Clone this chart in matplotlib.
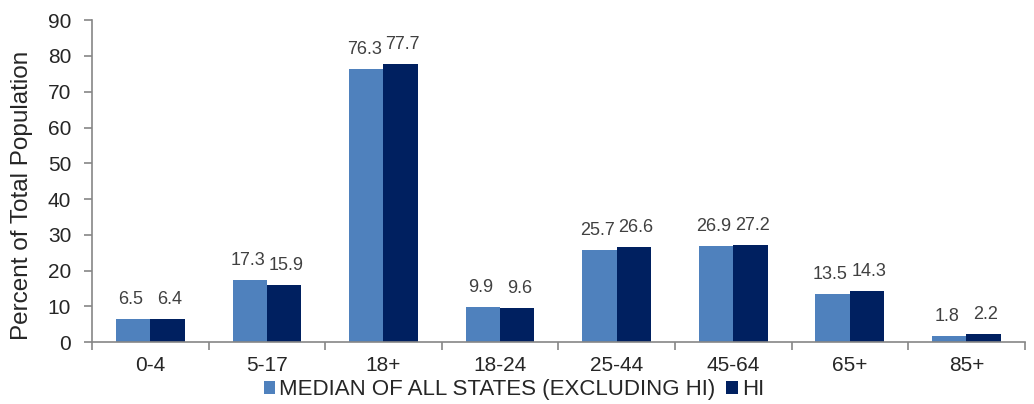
import matplotlib
matplotlib.use("Agg")
import matplotlib.pyplot as plt
import numpy as np

plt.rcParams['font.family'] = ['Liberation Sans', 'DejaVu Sans']

# age groups and percent of total population
age_groups = ["0-4", "5-17", "18+", "18-24", "25-44", "45-64", "65+", "85+"]
median_states = [6.5, 17.3, 76.3, 9.9, 25.7, 26.9, 13.5, 1.8]
hawaii = [6.4, 15.9, 77.7, 9.6, 26.6, 27.2, 14.3, 2.2]

series_names = ["MEDIAN OF ALL STATES (EXCLUDING HI)", "HI"]
y_ticks = [0, 10, 20, 30, 40, 50, 60, 70, 80, 90]

light_blue = "#4F81BD"
dark_blue = "#002060"
axis_gray = "#868686"
text_gray = "#404040"

fig = plt.figure(figsize=(10.34, 4.04), dpi=100)
ax = fig.add_axes([0.089, 0.153, 0.902, 0.797])

x = np.arange(len(age_groups))
w = 0.295

b1 = ax.bar(x - w / 2, median_states, w, color=light_blue, label=series_names[0])
b2 = ax.bar(x + w / 2, hawaii, w, color=dark_blue, label=series_names[1])

# value labels, nudged apart a little so the pairs don't collide
for bars, vals, dx in [(b1, median_states, -1.5), (b2, hawaii, 1.5)]:
    for rect, v in zip(bars, vals):
        ax.annotate(str(v), (rect.get_x() + rect.get_width() / 2, v),
                    xytext=(dx, 8), textcoords="offset points",
                    ha="center", va="bottom", fontsize=13, color=text_gray)

ax.set_xlim(-0.5, len(age_groups) - 0.5)
ax.set_ylim(0, 90)
ax.set_yticks(y_ticks)
ax.set_xticks(x)
ax.set_xticklabels(age_groups)
ax.set_xticks(np.arange(len(age_groups) + 1) - 0.5, minor=True)
ax.tick_params(axis="x", which="major", length=0, pad=10, labelsize=15, labelcolor="#262626")
ax.tick_params(axis="x", which="minor", length=6, color=axis_gray, width=1.2)
ax.tick_params(axis="y", length=6, color=axis_gray, width=1.2, labelsize=15, pad=9,
               labelcolor="#262626")

for side in ["top", "right"]:
    ax.spines[side].set_visible(False)
for side in ["left", "bottom"]:
    ax.spines[side].set_color(axis_gray)
    ax.spines[side].set_linewidth(1.2)

ax.set_ylabel("Percent of Total Population", fontsize=17.5, color="#262626")
ax.yaxis.set_label_coords(-0.063, 0.455)

fig.legend(loc="lower center", bbox_to_anchor=(0.497, -0.04), ncol=2, frameon=False,
           fontsize=16, handlelength=0.5, handleheight=0.5, handletextpad=0.2,
           columnspacing=0.5, labelcolor="#262626")

fig.savefig("out.png", dpi=100)
